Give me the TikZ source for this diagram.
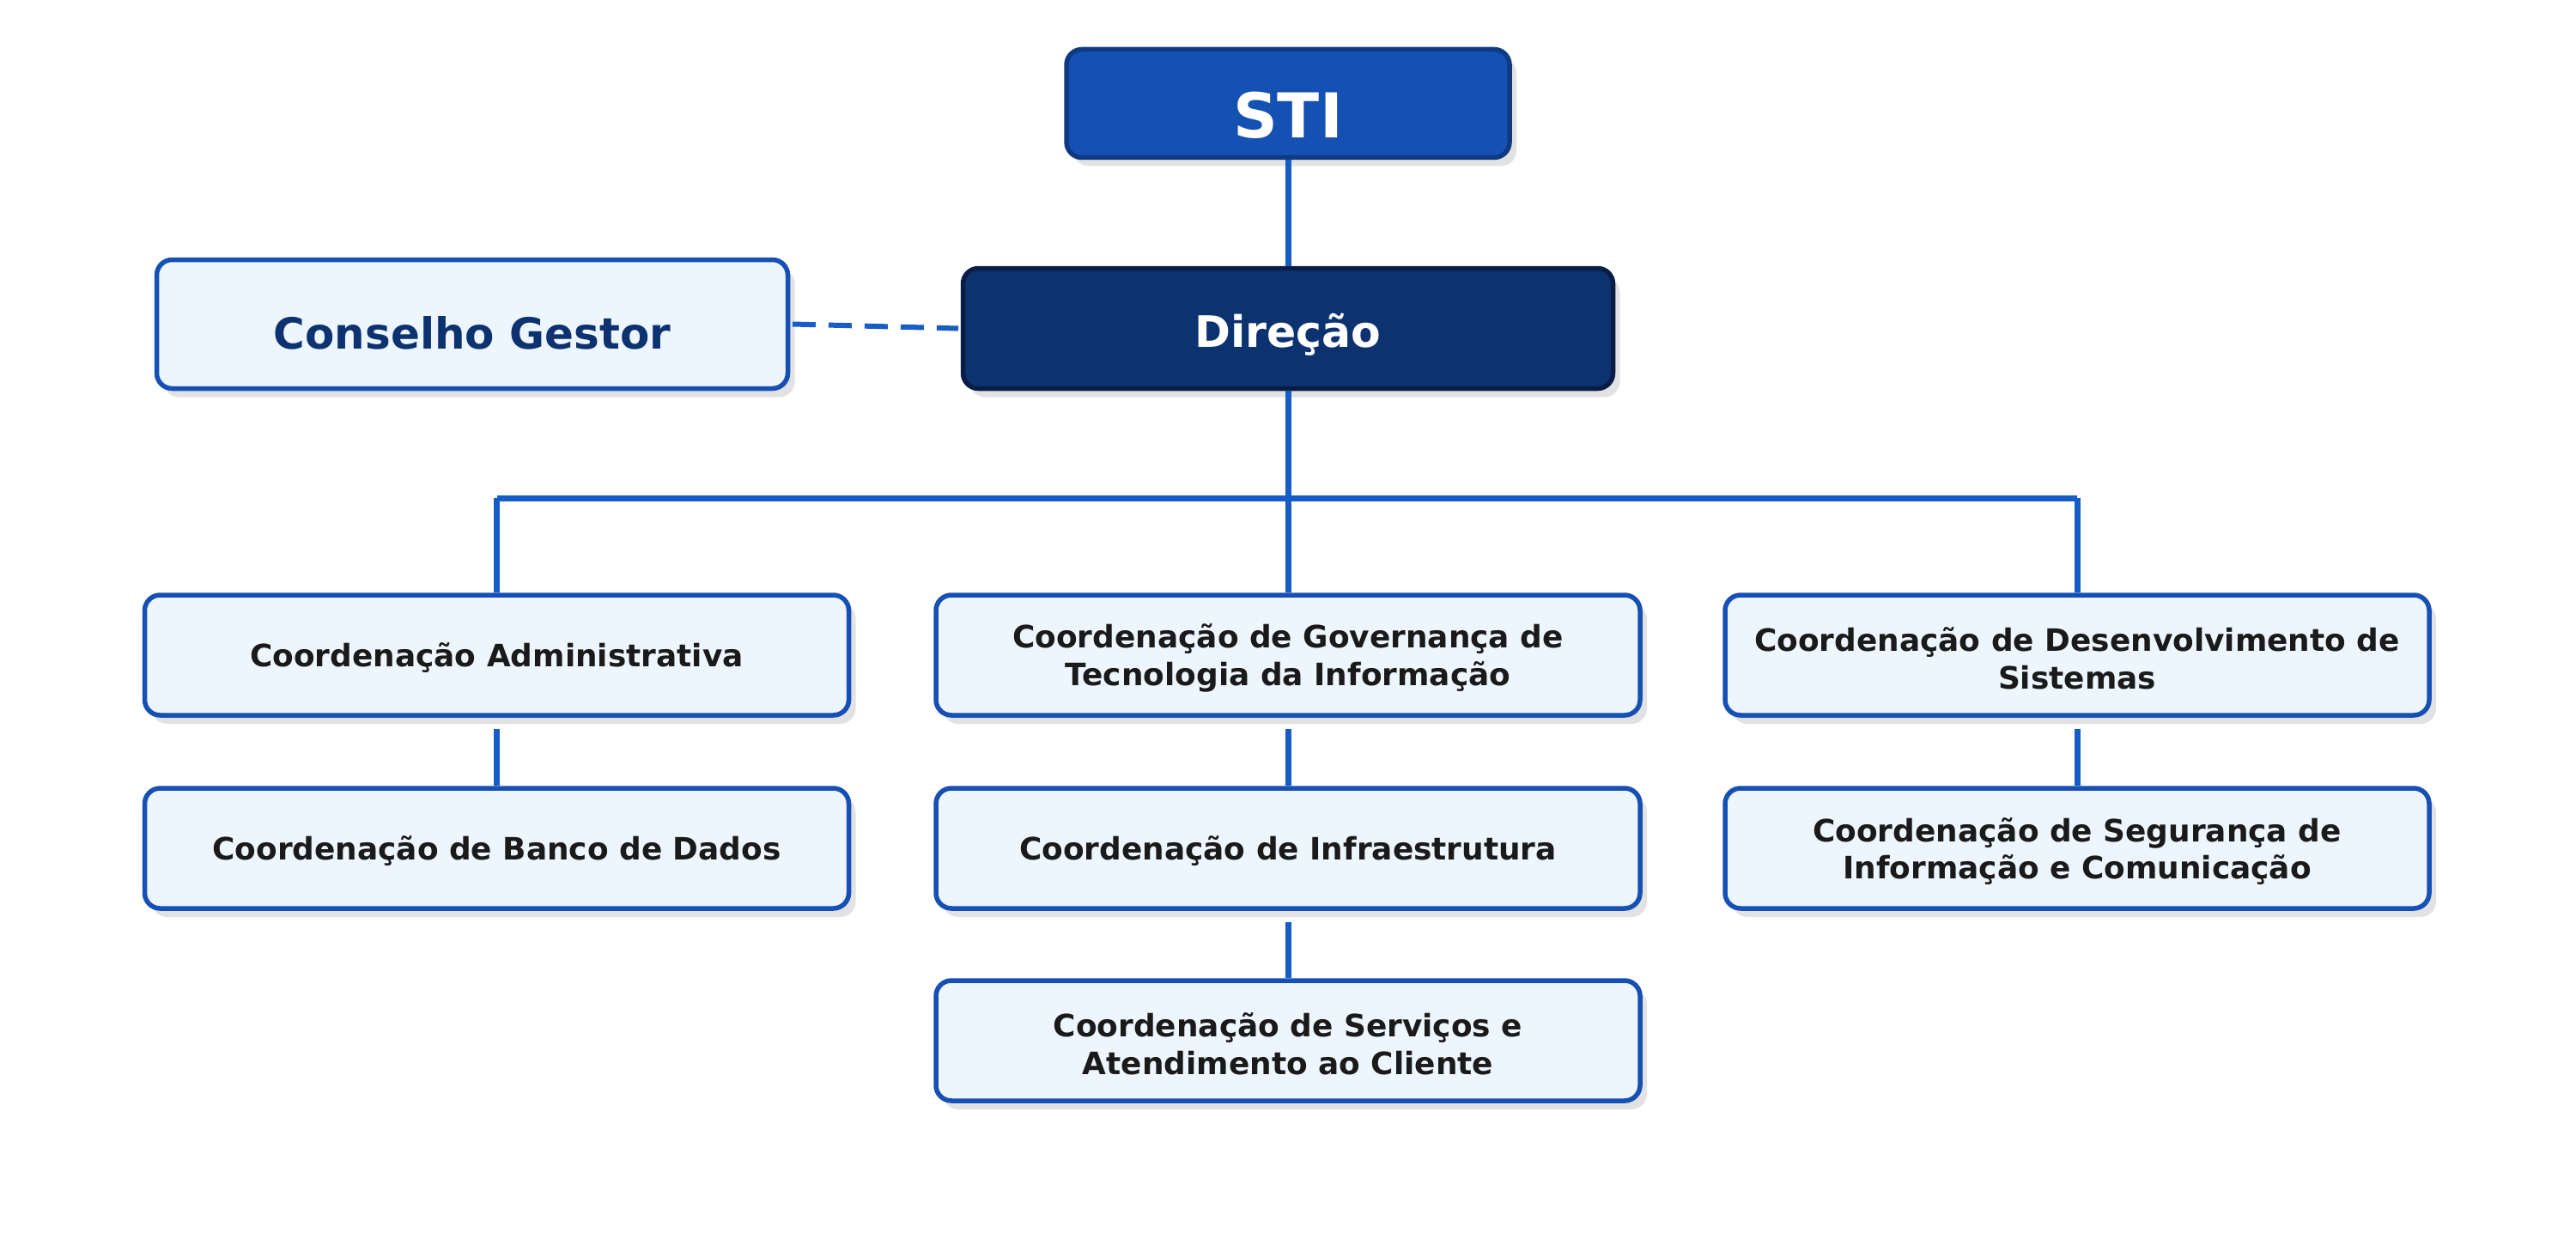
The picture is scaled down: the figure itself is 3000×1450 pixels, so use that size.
\documentclass[tikz,border=0pt]{standalone}
\usepackage{fontspec}
\setmainfont{DejaVu Sans}
\usetikzlibrary{shadows}
\definecolor{stifill}{HTML}{1550B3}
\definecolor{stiborder}{HTML}{0F3A82}
\definecolor{dirfill}{HTML}{0D3270}
\definecolor{dirborder}{HTML}{081D45}
\definecolor{lightfill}{HTML}{EDF5FE}
\definecolor{boxborder}{HTML}{1650B5}
\definecolor{linkcol}{HTML}{185CC8}
\definecolor{txtdark}{HTML}{1A1A1A}
\definecolor{constext}{HTML}{0D3270}
\definecolor{shadowcol}{HTML}{E2E2E2}
\newcommand{\firststrut}{\rule{0pt}{35pt}}
\begin{document}
\begin{tikzpicture}[x=1pt,y=-1pt,
  boxshadow/.style={drop shadow={shadow xshift=8pt,shadow yshift=-10pt,fill=shadowcol,opacity=1}},
  basebox/.style={rectangle,rounded corners=18pt,inner sep=0pt,line width=5.5pt,boxshadow},
  topbox/.style={basebox,fill=stifill,draw=stiborder,text=white,minimum width=516pt,minimum height=126pt,
    font=\bfseries\fontsize{72}{86}\selectfont,text height=79.5pt,text depth=0pt},
  dirbox/.style={basebox,fill=dirfill,draw=dirborder,text=white,minimum width=757pt,minimum height=140pt,
    font=\bfseries\fontsize{50.5}{60}\selectfont,text height=43.5pt,text depth=0pt},
  consbox/.style={basebox,fill=lightfill,draw=boxborder,text=constext,minimum width=735pt,minimum height=150pt,
    font=\bfseries\fontsize{50}{60}\selectfont,text height=57.5pt,text depth=0pt},
  coordbox/.style={basebox,fill=lightfill,draw=boxborder,text=txtdark,minimum width=820pt,minimum height=140pt,
    align=center,font=\bfseries\fontsize{35.9}{43.5}\selectfont},
  oneline/.style={text height=27pt,text depth=0pt},
  link/.style={draw=linkcol,line width=7pt},
  dashlink/.style={draw=linkcol,line width=6pt,dash pattern=on 27pt off 15pt}
]
\fill[white] (0,0) rectangle (3000,1450);
\useasboundingbox (0,0) rectangle (3000,1450);

\node[topbox] (sti) at (1500,120.5) {STI};
\node[dirbox] (dir) at (1500,382.5) {Direção};
\node[consbox] (cons) at (550,377.5) {Conselho Gestor};

\node[coordbox,oneline] (adm) at (578.5,763) {Coordenação Administrativa};
\node[coordbox] (gov) at (1500,763) {\firststrut Coordenação de Governança de\\Tecnologia da Informação};
\node[coordbox] (des) at (2419,763) {\firststrut Coordenação de Desenvolvimento de\\Sistemas};

\node[coordbox,oneline] (bd) at (578.5,988) {Coordenação de Banco de Dados};
\node[coordbox,oneline] (inf) at (1500,988) {Coordenação de Infraestrutura};
\node[coordbox] (seg) at (2419,988) {\firststrut Coordenação de Segurança de\\Informação e Comunicação};

\node[coordbox] (srv) at (1500,1212) {\firststrut Coordenação de Serviços e\\Atendimento ao Cliente};

\coordinate (bus) at (1500,580);

\draw[link] (sti.south) -- (dir.north);
\draw[link] (dir.south) -- (gov.north);
\draw[link] (adm.north |- bus) -- (des.north |- bus);
\draw[link] (adm.north |- bus) -- (adm.north);
\draw[link] (des.north |- bus) -- (des.north);

\draw[link] ([yshift=-13pt]adm.south) -- (bd.north);
\draw[link] ([yshift=-13pt]gov.south) -- (inf.north);
\draw[link] ([yshift=-13pt]des.south) -- (seg.north);
\draw[link] ([yshift=-13pt]inf.south) -- (srv.north);

\draw[dashlink] ([xshift=2.75pt]cons.east) -- ([xshift=-2.75pt]dir.west);
\end{tikzpicture}
\end{document}
